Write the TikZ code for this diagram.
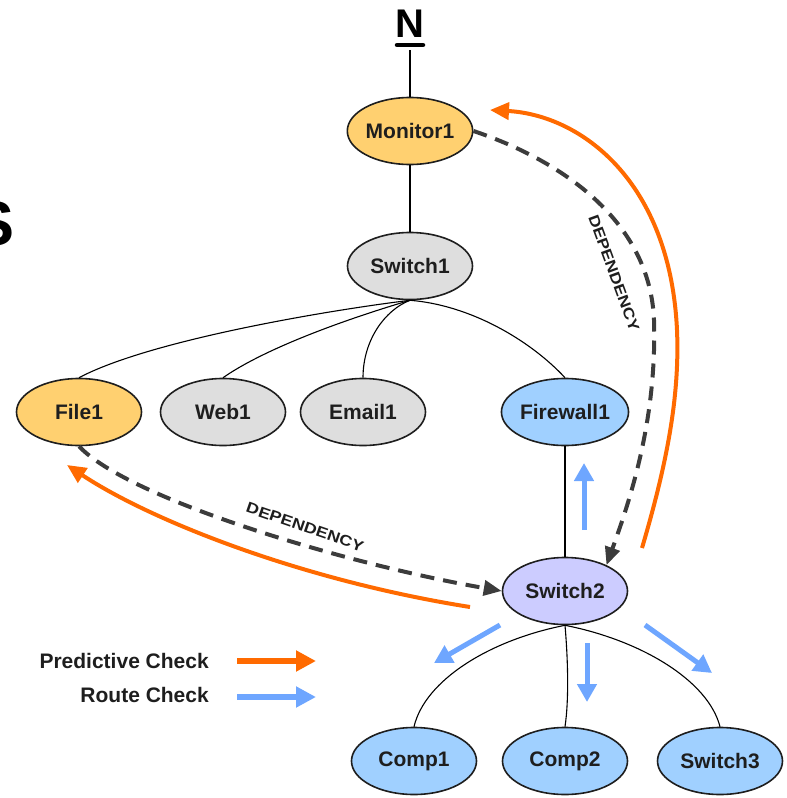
\documentclass[tikz,border=0pt]{standalone}
\usepackage{fontspec}
\usepackage{graphicx}
\setmainfont{Liberation Sans}
\usetikzlibrary{shapes.geometric,arrows.meta}
\definecolor{cOr}{HTML}{FFD070}
\definecolor{cGr}{HTML}{DEDEDE}
\definecolor{cBl}{HTML}{A0D0FF}
\definecolor{cLv}{HTML}{CCCCFF}
\definecolor{cPred}{HTML}{FF6A00}
\definecolor{cRoute}{HTML}{6EA6FF}
\definecolor{cDep}{HTML}{3C3C3C}
\definecolor{cTxt}{HTML}{1E1E1E}
\begin{document}
\begin{tikzpicture}[x=1pt,y=-1pt,
  nd/.style={ellipse,draw=cTxt,line width=1.6pt,minimum width=125pt,minimum height=67pt,inner sep=0pt,
     font=\fontsize{21}{21}\selectfont\bfseries,text=cTxt},
  tree/.style={draw=black,line width=1.1pt},
  dep/.style={draw=cDep,line width=4pt,dash pattern=on 14pt off 9pt,-{Triangle[length=18pt,width=15pt]}},
  pred/.style={draw=cPred,line width=4pt,-{Triangle[length=19pt,width=17pt]}},
  route/.style={draw=cRoute,line width=5pt,-{Triangle[length=18pt,width=19pt]}},
  deplbl/.style={font=\fontsize{15}{15}\selectfont\bfseries,inner sep=0pt,text=cTxt},
  legtxt/.style={font=\fontsize{21}{21}\selectfont\bfseries,inner sep=0pt,text=cTxt,anchor=base east}
]
\useasboundingbox (0,0) rectangle (787,798);
\clip (0,0) rectangle (787,798);

% partial title letter
\node[font=\fontsize{63}{63}\selectfont\bfseries,inner sep=0pt,anchor=base east] (ttl) at (15,245) {S};

% N symbol
\node[font=\fontsize{40}{40}\selectfont\bfseries,inner sep=0pt] (net) at (410,24) {N};
\draw[line width=4.5pt,line cap=round] (397,45) -- (423,45);
\coordinate (nbase) at (410,50);

% nodes
\node[nd,fill=cOr] (m1) at (410,131) {Monitor1};
\node[nd,fill=cGr] (s1) at (410,266) {Switch1};
\node[nd,fill=cOr] (f1) at (79,412) {File1};
\node[nd,fill=cGr] (w1) at (223,412) {Web1};
\node[nd,fill=cGr] (e1) at (363,412) {Email1};
\node[nd,fill=cBl] (fw) at (565,412) {Firewall1};
\node[nd,fill=cLv] (s2) at (565,591) {Switch2};
\node[nd,fill=cBl] (c1) at (414,761) {Comp1};
\node[nd,fill=cBl] (c2) at (565,761) {Comp2};
\node[nd,fill=cBl] (s3) at (720,761) {Switch3};

% tree edges
\draw[tree] (nbase) -- (m1.north);
\draw[tree] (m1.south) -- (s1.north);
\draw[tree] (s1.south) .. controls (330,310) and (150,340) .. (f1.north);
\draw[tree] (s1.south) .. controls (360,315) and (270,345) .. (w1.north);
\draw[tree] (s1.south) .. controls (385,310) and (363,340) .. (e1.north);
\draw[tree] (s1.south) .. controls (470,305) and (530,340) .. (fw.north);
\draw[tree] (fw.south) -- (s2.north);
\draw[tree] (s2.south) .. controls (490,640) and (425,680) .. (c1.north);
\draw[tree] (s2.south) .. controls (568,660) and (569,700) .. (c2.north);
\draw[tree] (s2.south) .. controls (640,640) and (708,680) .. (s3.north);

% dependency arrows
\draw[dep] (f1.south) .. controls (130,500) and (350,565) .. (s2.west);
\draw[dep] (m1.east) .. controls (560,160) and (650,220) .. (654,320)
   .. controls (657,420) and (630,500) .. (s2.32);
\node[deplbl,rotate=-19] (d1) at (305,527) {\scalebox{1.18}[1]{DEPENDENCY}};
\node[deplbl,rotate=-70] (d2) at (614,273) {\scalebox{1.18}[1]{DEPENDENCY}};

% predictive check arrows
\coordinate (p1s) at (642,548);
\coordinate (p1e) at (490,110);
\draw[pred] (p1s) .. controls (665,470) and (680,400) .. (677,330)
   .. controls (670,180) and (580,115) .. (p1e);
\coordinate (p2s) at (470,607);
\coordinate (p2e) at (67,465);
\draw[pred] (p2s) .. controls (300,580) and (150,520) .. (p2e);

% route check arrows
\draw[route] (584,530) -- (584,463);
\draw[route] (500,625) -- (434,663);
\draw[route] (587,643) -- (587,702);
\draw[route] (645,625) -- (712,673);

% legend
\node[legtxt] (lp) at (209,668) {Predictive Check};
\node[legtxt] (lr) at (209,702) {Route Check};
\draw[pred,line width=5.5pt,-{Triangle[length=20pt,width=20pt]}] (237,661) -- (316,661);
\draw[route,line width=5.5pt,-{Triangle[length=20pt,width=20pt]}] (237,697) -- (316,697);
\end{tikzpicture}
\end{document}
